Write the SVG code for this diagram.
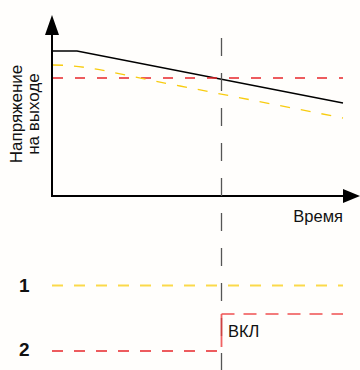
<svg xmlns="http://www.w3.org/2000/svg" width="360" height="370" viewBox="0 0 360 370">
<style>
.lbl{font-family:"Liberation Sans",Arial,sans-serif;fill:#111}
.num{font-family:"Liberation Sans",Arial,sans-serif;font-weight:bold;fill:#111}
.ax{stroke:#000;stroke-width:2;fill:none}
.red{stroke:#e8262a;stroke-width:1.3;fill:none}
.yel{stroke:#f8cc10;stroke-width:1.3;fill:none}
.vl{stroke:#555;stroke-width:1.3;fill:none;stroke-dasharray:18 17}
</style>
<rect width="360" height="370" fill="#fffefc"/>
<g id="axes">
<path class="ax" d="M52,34 V196 H344"/>
<polygon points="52,15 45,35 59,35" fill="#000"/>
<polygon points="360,196 343,189 343,203" fill="#000"/>
</g>
<g id="curves">
<path d="M52,51 H77 L343,103" stroke="#000" stroke-width="1.3" fill="none"/>
<path class="red" style="stroke-dasharray:10 12" d="M53,78 H343"/>
<path class="yel" style="stroke-dasharray:10 11" d="M53,65 C90,65 120,75 180,86 L343,118"/>
</g>
<g id="connectors">
<path class="vl" d="M221.5,38 V370"/>
<path class="yel" style="stroke-dasharray:11 11;stroke-width:2;stroke:#fbd94a" d="M52,285.5 H343"/>
<path class="red" style="stroke-dasharray:11 11;stroke-width:1.6" d="M52,351 H218"/>
<path d="M221.5,347 V314" stroke="#ee3b3b" stroke-width="1.8" opacity="0.8" fill="none"/>
<path class="red" style="stroke-dasharray:13 9;stroke-width:1.6;stroke:#f05050" d="M221.5,314 H343"/>
</g>
<g id="labels">
<text class="lbl" font-size="17" transform="translate(22,114) rotate(-90)" text-anchor="middle">Напряжение</text>
<text class="lbl" font-size="17" transform="translate(39,114) rotate(-90)" text-anchor="middle">на выходе</text>
<text class="lbl" font-size="16.5" x="343" y="222" text-anchor="end">Время</text>
<text class="lbl" font-size="16.5" x="228" y="337">ВКЛ</text>
<text class="num" font-size="19" x="19" y="292">1</text>
<text class="num" font-size="19" x="19" y="356">2</text>
</g>
</svg>
